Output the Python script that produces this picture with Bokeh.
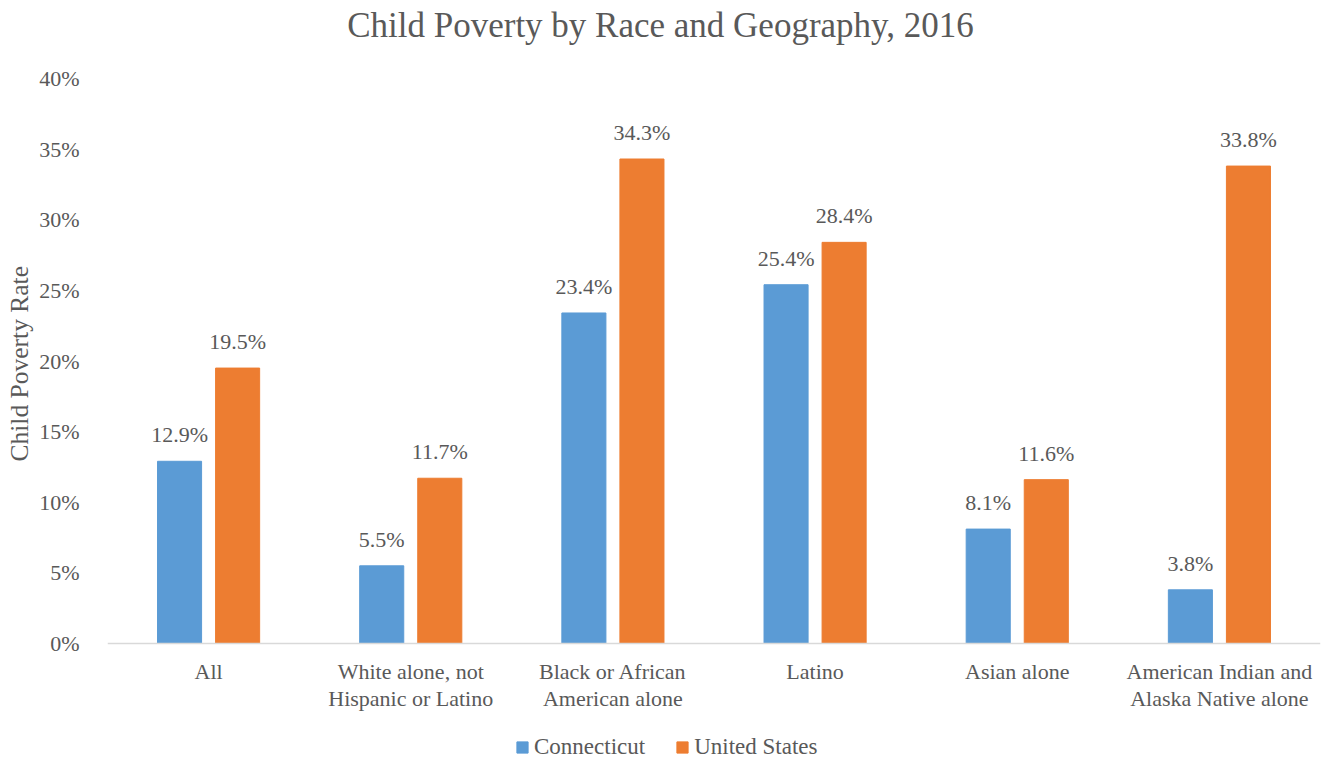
from bokeh.plotting import figure
from bokeh.models import (ColumnDataSource, FactorRange, Legend, LegendItem, PrintfTickFormatter,
                          Range1d, FixedTicker, Label, Title)
from bokeh.transform import dodge
from bokeh.embed import file_html
from bokeh.resources import INLINE

categories = ["All", "White alone, not\nHispanic or Latino", "Black or African\nAmerican alone",
              "Latino", "Asian alone", "American Indian and\nAlaska Native alone"]
connecticut = [12.9, 5.5, 23.4, 25.4, 8.1, 3.8]
united_states = [19.5, 11.7, 34.3, 28.4, 11.6, 33.8]
series_names = ["Connecticut", "United States"]
y_ticks = [0, 5, 10, 15, 20, 25, 30, 35, 40]
title_text = "Child Poverty by Race and Geography, 2016"
y_title = "Child Poverty Rate"

FONT = "Liberation Serif"
TXT = "#595959"
BLUE = "#5B9BD5"
ORANGE = "#ED7D31"

src = ColumnDataSource(dict(
    cat=categories, ct=connecticut, us=united_states,
    ct_lbl=[f"{v:.1f}%" for v in connecticut],
    us_lbl=[f"{v:.1f}%" for v in united_states],
))

# frame spans full height: 0% at 643px, 40% at 78px
px_per = (643 - 78) / 40.0
p = figure(width=1330, height=761, x_range=FactorRange(*categories, range_padding=0),
           y_range=Range1d(-(761 - 643) / px_per, 40 + 78 / px_per),
           output_backend="svg", toolbar_location=None,
           min_border_left=107, min_border_right=10, min_border_top=0, min_border_bottom=0)
p.outline_line_color = None
p.grid.visible = False

w = 0.218
r1 = p.vbar(x=dodge("cat", -0.1436, range=p.x_range), top="ct", width=w, source=src, color=BLUE)
r2 = p.vbar(x=dodge("cat", 0.1436, range=p.x_range), top="us", width=w, source=src, color=ORANGE)

for col, lbl, off in (("ct", "ct_lbl", -0.1436), ("us", "us_lbl", 0.1436)):
    p.text(x=dodge("cat", off, range=p.x_range), y=col, text=lbl, source=src,
           text_align="center", text_baseline="bottom", y_offset=-14,
           text_font=FONT, text_font_size="22px", text_color=TXT)

p.yaxis.ticker = FixedTicker(ticks=y_ticks)
p.yaxis.formatter = PrintfTickFormatter(format="%d%%")
p.yaxis.axis_line_color = None
p.yaxis.major_tick_line_color = None
p.yaxis.minor_tick_line_color = None
p.yaxis.major_label_standoff = 22

p.xaxis.fixed_location = 0
p.xaxis.axis_line_color = "#D9D9D9"
p.xaxis.axis_line_width = 1.5
p.xaxis.major_tick_line_color = None
p.xaxis.minor_tick_line_color = None
p.xaxis.major_label_standoff = 9
p.xaxis.major_label_text_line_height = 1.1

for ax in (p.xaxis, p.yaxis):
    ax.major_label_text_font = FONT
    ax.major_label_text_font_size = "22px"
    ax.major_label_text_color = TXT

p.add_layout(Label(x=660 - 107, y=761 - 25, x_units="screen", y_units="screen", text=title_text,
                   text_align="center", text_baseline="middle", text_font=FONT,
                   text_font_size="35px", text_color=TXT))

p.add_layout(Title(text=y_title, align="left", offset=761 - 461, text_font=FONT,
                   text_font_size="25.5px", text_font_style="normal", text_color=TXT,
                   standoff=5), "left")

legend = Legend(items=[LegendItem(label=series_names[0], renderers=[r1]),
                       LegendItem(label=series_names[1], renderers=[r2])],
                orientation="horizontal", location=(408, 1),
                label_text_font=FONT, label_text_font_size="23px", label_text_color=TXT,
                glyph_width=14, glyph_height=14, spacing=30, label_standoff=5,
                border_line_color=None, background_fill_alpha=0, padding=0, margin=0)
p.add_layout(legend, "center")

open("out.html", "w").write(file_html(p, INLINE))
